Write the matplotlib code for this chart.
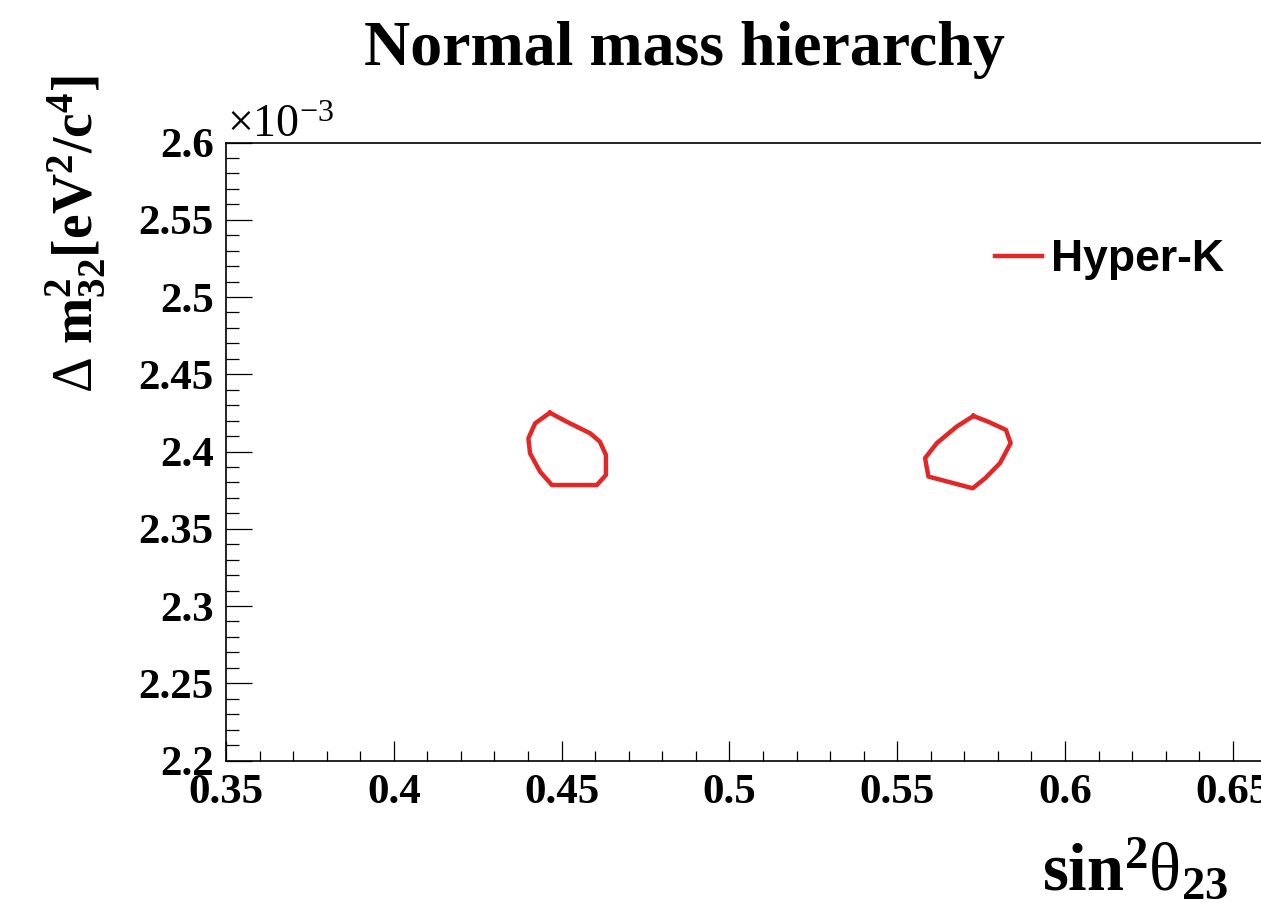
import matplotlib
matplotlib.use("Agg")
import matplotlib.pyplot as plt
from matplotlib.lines import Line2D
from matplotlib.ticker import MultipleLocator, FixedLocator, FixedFormatter
from matplotlib.font_manager import FontProperties

# ---- data -------------------------------------------------------------
# sin^2(theta_23) / Delta m^2_32 (units of 1e-3 eV^2/c^4) contour, lower octant
lower_x = [0.4465, 0.4421, 0.4401, 0.4406, 0.4436, 0.4471, 0.4605,
           0.4632, 0.4632, 0.4614, 0.4585, 0.4515, 0.4465]
lower_y = [2.4251, 2.4182, 2.4085, 2.3988, 2.3869, 2.3783, 2.3783,
           2.3848, 2.3978, 2.4064, 2.4118, 2.4193, 2.4251]
# upper octant
upper_x = [0.5727, 0.5771, 0.5824, 0.5838, 0.5806, 0.5762, 0.5725,
           0.5593, 0.5583, 0.5618, 0.5677, 0.5727]
upper_y = [2.4230, 2.4193, 2.4140, 2.4054, 2.3924, 2.3827, 2.3762,
           2.3838, 2.3957, 2.4054, 2.4161, 2.4230]

x_ticks = [0.35, 0.40, 0.45, 0.50, 0.55, 0.60, 0.65]
x_tick_labels = ["0.35", "0.4", "0.45", "0.5", "0.55", "0.6", "0.65"]
y_ticks = [2.20, 2.25, 2.30, 2.35, 2.40, 2.45, 2.50, 2.55, 2.60]
y_tick_labels = ["2.2", "2.25", "2.3", "2.35", "2.4", "2.45", "2.5", "2.55", "2.6"]
series_label = "Hyper-K"
title = "Normal mass hierarchy"

# ---- style -------------------------------------------------------------
plt.rcParams.update({
    "mathtext.fontset": "custom",
    "mathtext.rm": "Liberation Serif",
    "mathtext.bf": "Liberation Serif:bold",
    "mathtext.it": "Liberation Serif:italic",
    "mathtext.default": "bf",
})
RED = "#e32626"
LW = 3.2
W, H = 1261, 911
serif_b = dict(family="Liberation Serif", weight="bold")

fig = plt.figure(figsize=(W / 100, H / 100), dpi=100)
ax_left, ax_top, ax_bottom = 226, 142.5, 760.5
ax = fig.add_axes([ax_left / W, 1 - ax_bottom / H, (W - ax_left) / W,
                   (ax_bottom - ax_top) / H])

ax.plot(lower_x, lower_y, color=RED, lw=LW, solid_joinstyle="round")
ax.plot(upper_x, upper_y, color=RED, lw=LW, solid_joinstyle="round")

px_per_unit = 167.8 / 0.05
ax.set_xlim(0.35, 0.35 + (W - ax_left) / px_per_unit)
ax.set_ylim(2.2, 2.6)

ax.xaxis.set_major_locator(FixedLocator(x_ticks))
ax.xaxis.set_major_formatter(FixedFormatter(x_tick_labels))
ax.xaxis.set_minor_locator(MultipleLocator(0.01))
ax.yaxis.set_major_locator(FixedLocator(y_ticks))
ax.yaxis.set_major_formatter(FixedFormatter(y_tick_labels))
ax.yaxis.set_minor_locator(MultipleLocator(0.01))

ax.spines["right"].set_visible(False)
for s in ("left", "top", "bottom"):
    ax.spines[s].set_linewidth(1.2)
ax.tick_params(axis="x", which="major", direction="in", length=14.4, width=0.9,
               pad=10, top=False)
ax.tick_params(axis="x", which="minor", direction="in", length=7.2, width=0.9,
               top=False)
ax.tick_params(axis="y", which="major", direction="in", length=18.7, width=0.9,
               pad=9, right=False)
ax.tick_params(axis="y", which="minor", direction="in", length=9.4, width=0.9,
               right=False)
for lab in ax.get_xticklabels() + ax.get_yticklabels():
    lab.set_fontfamily("Liberation Serif")
    lab.set_fontweight("bold")
    lab.set_fontsize(31)

# ---- texts -------------------------------------------------------------
fig.text(684 / W, 1 - 65 / H, title, ha="center", va="baseline",
         fontsize=46, **serif_b)
fig.text(227 / W, 1 - 137 / H, r"$\mathrm{\times10^{-3}}$", ha="left",
         va="baseline", fontsize=33)
fig.text(1228 / W, 1 - 890 / H, r"$sin^{2}\mathrm{\theta}_{23}$", ha="right",
         va="baseline", fontsize=48)
fig.text(92 / W, 1 - 393 / H, r"$\mathrm{\Delta}\ m^{2}_{32}[eV^{2}/c^{4}]$",
         rotation=90, rotation_mode="anchor", ha="left", va="baseline",
         fontsize=40)

handle = Line2D([], [], color=RED, lw=LW)
ax.legend([handle], [series_label], loc="center left",
          bbox_to_anchor=(995 / W, 1 - 260 / H), bbox_transform=fig.transFigure,
          frameon=False, borderpad=0, borderaxespad=0, handlelength=1.05,
          handletextpad=0.2,
          prop=FontProperties(family="Liberation Sans", weight="bold", size=32))

fig.savefig("out.png", dpi=100)
